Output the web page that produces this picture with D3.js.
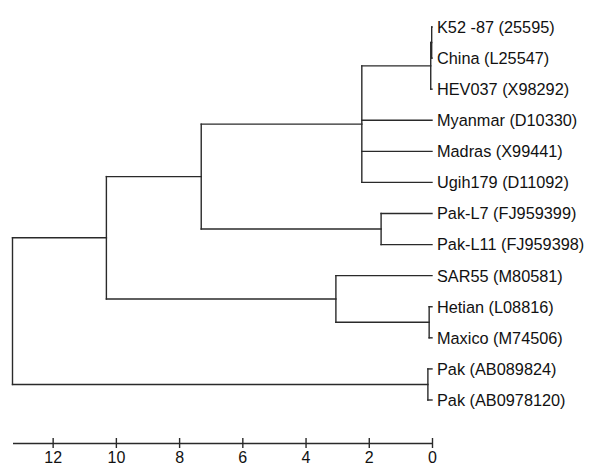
<!DOCTYPE html>
<html>
<head>
<meta charset="utf-8">
<script src="https://cdn.jsdelivr.net/npm/d3@7"></script>
<style>
  html, body { margin: 0; padding: 0; background: #fff; }
  svg { display: block; }
  text { font-family: "Liberation Sans", Arial, sans-serif; fill: #111; }
</style>
</head>
<body>
<svg id="chart" width="600" height="471"></svg>
<script>
// ---- Data ----
// Tree nodes (display order), their parents and merge heights (distance units)
const nodeIds = [
  "root", "A", "B", "C", "KC", "KC2",
  "K52 -87 (25595)", "China (L25547)", "HEV037 (X98292)",
  "Myanmar (D10330)", "Madras (X99441)", "Ugih179 (D11092)",
  "PakL", "Pak-L7 (FJ959399)", "Pak-L11 (FJ959398)",
  "SARg", "SAR55 (M80581)", "HM", "Hetian (L08816)", "Maxico (M74506)",
  "PakG", "Pak (AB089824)", "Pak (AB0978120)"
];
const parentIds = [
  null, "root", "A", "B", "C", "KC",
  "KC2", "KC2", "KC",
  "C", "C", "C",
  "B", "PakL", "PakL",
  "A", "SARg", "SARg", "HM", "HM",
  "root", "PakG", "PakG"
];
const heights = [
  13.27, 10.3, 7.3, 2.22, 0.04, 0.01,
  0, 0, 0,
  0, 0, 0,
  1.61, 0, 0,
  3.04, 0, 0.09, 0, 0,
  0.13, 0, 0
];
const tickValues = [12, 10, 8, 6, 4, 2, 0];

// ---- Build hierarchy ----
const table = nodeIds.map((id, i) => ({ id, parent: parentIds[i], h: heights[i] }));
const root = d3.stratify().id(d => d.id).parentId(d => d.parent)(table);

const leaves = root.leaves();
const svg = d3.select("#chart");

const x = d3.scaleLinear().domain([heights[0], 0]).range([12.5, 432]);
const y = d3.scalePoint().domain(leaves.map(d => d.id)).range([27, 400]);

// assign y positions: leaves from scale, internal nodes = midpoint of first/last child
root.eachAfter(n => {
  if (!n.children) n.py = y(n.id);
  else n.py = (n.children[0].py + n.children[n.children.length - 1].py) / 2;
  n.px = x(n.data.h);
});

const g = svg.append("g")
  .attr("fill", "none")
  .attr("stroke", "#2a2a2a")
  .attr("stroke-width", 1.4)
  .attr("stroke-linecap", "square");

const internal = root.descendants().filter(n => n.children);
// vertical connectors
g.selectAll("line.v").data(internal).join("line")
  .attr("class", "v")
  .attr("x1", n => n.px).attr("x2", n => n.px)
  .attr("y1", n => n.children[0].py)
  .attr("y2", n => n.children[n.children.length - 1].py);
// horizontal branches
const nonRoot = root.descendants().filter(n => n.parent);
g.selectAll("line.h").data(nonRoot).join("line")
  .attr("class", "h")
  .attr("x1", n => n.parent.px).attr("x2", n => n.px)
  .attr("y1", n => n.py).attr("y2", n => n.py);

// leaf labels
svg.selectAll("text.leaf").data(leaves).join("text")
  .attr("class", "leaf")
  .attr("x", 437)
  .attr("y", n => n.py)
  .attr("dy", "0.36em")
  .attr("font-size", 16.3)
  .text(n => n.id);

// ---- Axis ----
const axis = d3.axisBottom(x).tickValues(tickValues).tickFormat(d3.format("d"))
  .tickSizeInner(5).tickSizeOuter(0).tickPadding(4);
const ax = svg.append("g").attr("transform", "translate(0,443)").call(axis);
ax.select(".domain").attr("stroke", "#2a2a2a").attr("stroke-width", 1.4);
ax.selectAll(".tick line").attr("y1", -5).attr("y2", 5).attr("stroke", "#2a2a2a").attr("stroke-width", 1.4);
ax.selectAll(".tick text").attr("font-size", 16).attr("font-family", "\"Liberation Sans\", Arial, sans-serif").attr("fill", "#111");
</script>
</body>
</html>
